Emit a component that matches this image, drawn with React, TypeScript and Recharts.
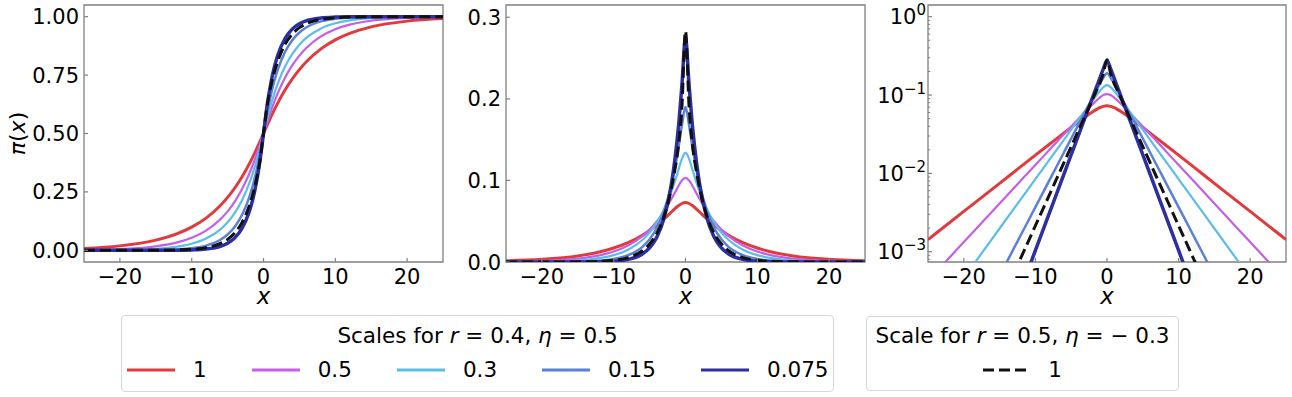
import React from 'react';
import { LineChart, Line, XAxis, YAxis, ReferenceArea } from 'recharts';

// ---------- data ----------
const xs = [-25, -20, -15, -12, -10, -8, -6, -5, -4, -3, -2, -1.5, -1, -0.5, 0, 0.5, 1, 1.5, 2, 3, 4, 5, 6, 8, 10, 12, 15, 20, 25];

const scaleNames = ['1', '0.5', '0.3', '0.15', '0.075'];
const refName = '1';

// densities (middle and right panels)
const pdfScale1 = [0.00143, 0.00327, 0.00747, 0.0123, 0.0171, 0.0237, 0.0328, 0.0385, 0.0452, 0.0527, 0.061, 0.0652, 0.0689, 0.0717, 0.0728, 0.0717, 0.0689, 0.0652, 0.061, 0.0527, 0.0452, 0.0385, 0.0328, 0.0237, 0.0171, 0.0123, 0.00747, 0.00327, 0.00143];
const pdfScale05 = [0.000427, 0.00133, 0.00414, 0.00816, 0.0128, 0.0202, 0.0317, 0.0397, 0.0496, 0.0618, 0.0766, 0.0847, 0.0929, 0.0999, 0.103, 0.0999, 0.0929, 0.0847, 0.0766, 0.0618, 0.0496, 0.0397, 0.0317, 0.0202, 0.0128, 0.00816, 0.00414, 0.00133, 0.000427];
const pdfScale03 = [0.000109, 0.000464, 0.00198, 0.00474, 0.00847, 0.0151, 0.027, 0.0361, 0.0482, 0.0643, 0.0854, 0.0982, 0.1123, 0.1264, 0.134, 0.1264, 0.1123, 0.0982, 0.0854, 0.0643, 0.0482, 0.0361, 0.027, 0.0151, 0.00847, 0.00474, 0.00198, 0.000464, 0.000109];
const pdfScale015 = [0.0000087, 0.0000657, 0.000494, 0.00166, 0.00371, 0.00831, 0.0186, 0.0279, 0.0417, 0.0623, 0.0931, 0.1137, 0.1386, 0.1677, 0.19, 0.1677, 0.1386, 0.1137, 0.0931, 0.0623, 0.0417, 0.0279, 0.0186, 0.00831, 0.00371, 0.00166, 0.000494, 0.0000657, 0.0000087];
const pdfScale0075 = [0.00000022, 0.0000037, 0.0000621, 0.000336, 0.00104, 0.0032, 0.00986, 0.0173, 0.0304, 0.0533, 0.0936, 0.124, 0.164, 0.217, 0.275, 0.217, 0.164, 0.124, 0.0936, 0.0533, 0.0304, 0.0173, 0.00986, 0.0032, 0.00104, 0.000336, 0.0000621, 0.0000037, 0.00000022];
const pdfRef = [0.000002, 0.0000206, 0.00021, 0.000849, 0.00215, 0.00545, 0.0138, 0.022, 0.035, 0.0558, 0.0888, 0.112, 0.141, 0.19, 0.283, 0.19, 0.141, 0.112, 0.0888, 0.0558, 0.035, 0.022, 0.0138, 0.00545, 0.00215, 0.000849, 0.00021, 0.0000206, 0.000002];

// cumulative (left panel)
const cdfScale1 = [0.0083, 0.019, 0.0436, 0.0717, 0.0994, 0.138, 0.192, 0.2265, 0.2667, 0.3139, 0.3687, 0.399, 0.4313, 0.4652, 0.5, 0.5348, 0.5687, 0.601, 0.6313, 0.6861, 0.7333, 0.7735, 0.808, 0.862, 0.9006, 0.9283, 0.9564, 0.981, 0.9917];
const cdfScale05 = [0.00177, 0.00552, 0.0172, 0.034, 0.0535, 0.0844, 0.1329, 0.1666, 0.2087, 0.2613, 0.3266, 0.3646, 0.4065, 0.4521, 0.5, 0.5479, 0.5935, 0.6354, 0.6734, 0.7387, 0.7913, 0.8334, 0.8671, 0.9156, 0.9465, 0.966, 0.9828, 0.99448, 0.99823];
const cdfScale03 = [0.00036, 0.00154, 0.00658, 0.0157, 0.0281, 0.0503, 0.0899, 0.12, 0.1602, 0.2137, 0.2851, 0.3292, 0.3799, 0.4374, 0.5, 0.5626, 0.6201, 0.6708, 0.7149, 0.7863, 0.8398, 0.88, 0.9101, 0.9497, 0.9719, 0.9843, 0.99342, 0.99846, 0.99964];
const cdfScale015 = [0.000021, 0.00016, 0.0012, 0.004, 0.009, 0.0201, 0.0451, 0.0675, 0.101, 0.1514, 0.2258, 0.2763, 0.338, 0.4127, 0.5, 0.5873, 0.662, 0.7237, 0.7742, 0.8486, 0.899, 0.9325, 0.9549, 0.9799, 0.991, 0.996, 0.9988, 0.99984, 0.999979];
const cdfScale0075 = [0, 0.0000065, 0.00011, 0.00059, 0.00181, 0.0056, 0.0172, 0.0303, 0.0532, 0.0933, 0.1638, 0.217, 0.2883, 0.3813, 0.5, 0.6187, 0.7117, 0.783, 0.8362, 0.9067, 0.9468, 0.9697, 0.9828, 0.9944, 0.99819, 0.99941, 0.99989, 0.9999935, 1];
const cdfRef = [0.000004, 0.000044, 0.00045, 0.0018, 0.00458, 0.0116, 0.0294, 0.0468, 0.0746, 0.1187, 0.189, 0.2385, 0.3009, 0.3828, 0.5, 0.6172, 0.6991, 0.7615, 0.811, 0.8813, 0.9254, 0.9532, 0.9706, 0.9884, 0.99542, 0.9982, 0.99955, 0.999956, 0.999996];

// ticks
const xTicks = [-20, -10, 0, 10, 20];
const cdfTicks = [0, 0.25, 0.5, 0.75, 1];
const pdfTicks = [0, 0.1, 0.2, 0.3];
const logMajorTicks = [1, 0.1, 0.01, 0.001];
const logMinorTicks = [0.9, 0.8, 0.7, 0.6, 0.5, 0.4, 0.3, 0.2, 0.09, 0.08, 0.07, 0.06, 0.05, 0.04, 0.03, 0.02, 0.009, 0.008, 0.007, 0.006, 0.005, 0.004, 0.003, 0.002, 0.0009, 0.0008];

// ---------- style ----------
const FONT = '"DejaVu Sans", "Liberation Sans", sans-serif';
const GREY = '#808080';
const TM = 10;
const CHART_H = 330;
const scaleColors = ['#e23a3c', '#c55ee8', '#5cbde9', '#5b80d8', '#2c2f9f'];
const scaleWidths = [3, 2.2, 2.2, 2.5, 3.5];
const refColor = '#111111';
const seriesKeys = ['s1', 's05', 's03', 's015', 's0075'];

const pdfSeries = [pdfScale1, pdfScale05, pdfScale03, pdfScale015, pdfScale0075];
const cdfSeries = [cdfScale1, cdfScale05, cdfScale03, cdfScale015, cdfScale0075];

function buildRows(series: number[][], ref: number[]) {
  return xs.map((x, i) => {
    const row: any = { x };
    series.forEach((s, k) => { row[seriesKeys[k]] = s[i]; });
    row.ref = ref[i];
    return row;
  });
}
const cdfRows = buildRows(cdfSeries, cdfRef);
const pdfRows = buildRows(pdfSeries, pdfRef);

const minus = (s: string) => s.replace('-', '\u2212');

const XTick = (p: any) => {
  const { x, y, payload } = p;
  const axisY = y - TM;
  return (
    <g>
      <line x1={x} x2={x} y1={axisY} y2={axisY - 4} stroke={GREY} strokeWidth={1.2} />
      <text x={x} y={axisY + 21.5} textAnchor="middle" fontSize={21} fontFamily={FONT} fill="#000">
        {minus(String(payload.value))}
      </text>
    </g>
  );
};

const makeLinTick = (digits: number) => (p: any) => {
  const { x, y, payload } = p;
  const axisX = x + TM;
  return (
    <g>
      <line x1={axisX} x2={axisX + 4} y1={y} y2={y} stroke={GREY} strokeWidth={1.2} />
      <text x={axisX - 5} y={y + 7.5} textAnchor="end" fontSize={21} fontFamily={FONT} fill="#000">
        {Number(payload.value).toFixed(digits)}
      </text>
    </g>
  );
};

const LogTick = (p: any) => {
  const { x, y, payload } = p;
  const axisX = x + TM;
  const lg = Math.log10(payload.value);
  const e = Math.round(lg);
  const major = Math.abs(lg - e) < 1e-6;
  if (!major) {
    return <line x1={axisX} x2={axisX + 2.2} y1={y} y2={y} stroke={GREY} strokeWidth={1} />;
  }
  return (
    <g>
      <line x1={axisX} x2={axisX + 4} y1={y} y2={y} stroke={GREY} strokeWidth={1.2} />
      <text x={axisX - 2} y={y + 7.5} textAnchor="end" fontSize={21} fontFamily={FONT} fill="#000">
        <tspan>10</tspan>
        <tspan dy={-9} fontSize={15}>{minus(String(e))}</tspan>
      </text>
    </g>
  );
};

const XLabel = (props: any) => {
  const vb = props.viewBox;
  return (
    <text x={vb.x + vb.width / 2} y={vb.y + 42} textAnchor="middle" fontSize={23} fontStyle="italic" fontFamily={FONT} fill="#000">x</text>
  );
};

const YLabel = (props: any) => {
  const vb = props.viewBox;
  const cx = vb.x - 7;
  const cy = vb.y + vb.height / 2;
  return (
    <text x={cx} y={cy} transform={`rotate(-90, ${cx}, ${cy})`} textAnchor="middle" dominantBaseline="central" fontSize={22} fontFamily={FONT} fill="#000">
      <tspan fontStyle="italic">π</tspan>(<tspan fontStyle="italic">x</tspan>)
    </text>
  );
};

type PanelProps = {
  left: number; width: number; mLeft: number; mRight: number; yWidth: number;
  rows: any[]; yDomain: [number, number]; yTicks: number[]; yTick: any; log?: boolean; yLabel?: boolean;
};

function Panel(p: PanelProps) {
  return (
    <div style={{ position: 'absolute', left: p.left, top: 0 }}>
      <LineChart width={p.width} height={CHART_H} data={p.rows} margin={{ top: 5, right: p.mRight, bottom: CHART_H - 292, left: p.mLeft }}>
        <XAxis dataKey="x" type="number" domain={[-25, 25]} ticks={xTicks} interval={0} allowDataOverflow
          tickSize={0} tickMargin={TM} tickLine={false} axisLine={false} tick={XTick} height={30} label={XLabel} />
        <YAxis type="number" scale={p.log ? 'log' : 'linear'} domain={p.yDomain} ticks={p.yTicks} interval={0} allowDataOverflow
          tickSize={0} tickMargin={TM} tickLine={false} axisLine={false} tick={p.yTick} width={p.yWidth}
          label={p.yLabel ? YLabel : undefined} />
        <ReferenceArea x1={-25} x2={25} y1={p.yDomain[0]} y2={p.yDomain[1]} fill="none" fillOpacity={0} stroke={GREY} strokeWidth={1.3} ifOverflow="visible" />
        {seriesKeys.map((k, i) => (
          <Line key={k} dataKey={k} type="monotone" stroke={scaleColors[i]} strokeWidth={scaleWidths[i]} dot={false} isAnimationActive={false} />
        ))}
        <Line dataKey="ref" type="monotone" stroke={refColor} strokeWidth={3} strokeDasharray="11 5" dot={false} isAnimationActive={false} />
      </LineChart>
    </div>
  );
}

function Handle({ color, dashed }: { color: string; dashed?: boolean }) {
  return (
    <svg width={48} height={8} style={{ display: 'block', flex: 'none' }}>
      <line x1={0} y1={4} x2={48} y2={4} stroke={color} strokeWidth={3} strokeDasharray={dashed ? '11 5' : undefined} />
    </svg>
  );
}

const boxStyle: React.CSSProperties = {
  position: 'absolute', boxSizing: 'border-box', border: '1px solid #d8d8d8', borderRadius: 4,
  background: '#fff', fontFamily: FONT, fontSize: 21.5, color: '#000',
};

export default function App() {
  return (
    <div style={{ position: 'absolute', left: 0, top: 0, width: 1292, height: 397, background: '#fff', overflow: 'hidden' }}>
      <Panel left={0} width={450} mLeft={24} mRight={7} yWidth={60} rows={cdfRows} yDomain={[-0.05, 1.05]} yTicks={cdfTicks} yTick={makeLinTick(2)} yLabel />
      <Panel left={450} width={420} mLeft={16} mRight={5} yWidth={40} rows={pdfRows} yDomain={[0, 0.315]} yTicks={pdfTicks} yTick={makeLinTick(1)} />
      <Panel left={870} width={422} mLeft={0} mRight={6} yWidth={58} rows={pdfRows} yDomain={[7.4e-4, 1.41]} yTicks={[...logMajorTicks, ...logMinorTicks]} yTick={LogTick} log />

      <div style={{ ...boxStyle, left: 121, top: 315, width: 713, height: 77 }}>
        <div style={{ position: 'absolute', left: 0, right: 0, top: 7, lineHeight: '26px', textAlign: 'center', whiteSpace: 'nowrap' }}>
          Scales for <i>r</i> = 0.4, <i>η</i> = 0.5
        </div>
        <div style={{ position: 'absolute', left: 5, top: 41, height: 26, display: 'flex', alignItems: 'center' }}>
          {scaleNames.map((n, i) => (
            <div key={n} style={{ display: 'flex', alignItems: 'center', marginRight: i < scaleNames.length - 1 ? 45 : 0 }}>
              <Handle color={scaleColors[i]} />
              <span style={{ marginLeft: 18, lineHeight: '26px' }}>{n}</span>
            </div>
          ))}
        </div>
      </div>

      <div style={{ ...boxStyle, left: 866, top: 316, width: 313, height: 75 }}>
        <div style={{ position: 'absolute', left: 0, right: 0, top: 6, lineHeight: '26px', textAlign: 'center', whiteSpace: 'nowrap' }}>
          Scale for <i>r</i> = 0.5, <i>η</i> = − 0.3
        </div>
        <div style={{ position: 'absolute', left: 0, right: 0, top: 40, height: 26, display: 'flex', alignItems: 'center', justifyContent: 'center' }}>
          <Handle color={refColor} dashed />
          <span style={{ marginLeft: 17, lineHeight: '26px' }}>{refName}</span>
        </div>
      </div>
    </div>
  );
}
